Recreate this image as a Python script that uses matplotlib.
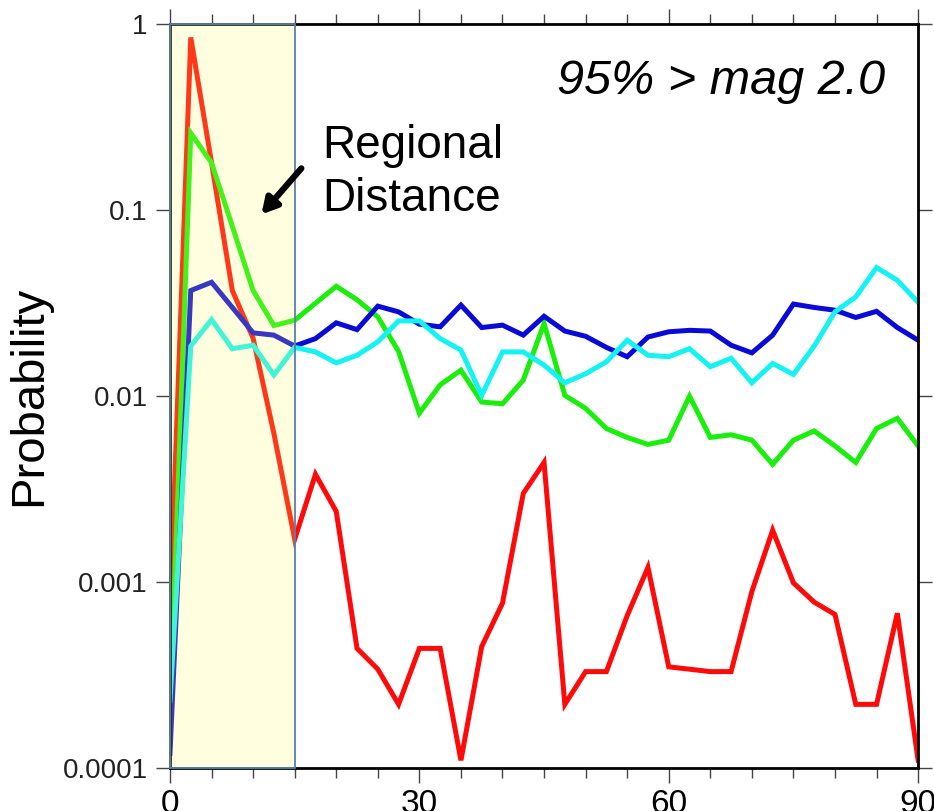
import matplotlib
matplotlib.use("Agg")
import matplotlib.pyplot as plt
from matplotlib.patches import Rectangle

plt.rcParams['font.family'] = ['Liberation Sans', 'DejaVu Sans']

# distance grid (degrees) and probabilities
distance = [0, 2.5, 5, 7.5, 10, 12.5, 15, 17.5, 20, 22.5, 25, 27.5, 30, 32.5,
            35, 37.5, 40, 42.5, 45, 47.5, 50, 52.5, 55, 57.5, 60, 62.5, 65,
            67.5, 70, 72.5, 75, 77.5, 80, 82.5, 85, 87.5, 90]

red = [0.0007, 0.85, 0.18, 0.037, 0.0205, 0.0063, 0.0017, 0.0038, 0.0024,
       0.00044, 0.00034, 0.00022, 0.00044, 0.00044, 0.00011, 0.00045, 0.00077,
       0.003, 0.0044, 0.00022, 0.00033, 0.00033, 0.00066, 0.0012, 0.00035,
       0.00034, 0.00033, 0.00033, 0.00089, 0.0019, 0.00099, 0.00078, 0.00067,
       0.00022, 0.00022, 0.00068, 0.00011]

green = [0.0002, 0.26, 0.18, 0.082, 0.037, 0.024, 0.0256, 0.0316, 0.039,
         0.033, 0.0267, 0.0174, 0.0081, 0.0115, 0.0138, 0.0093, 0.0091,
         0.0122, 0.0246, 0.0101, 0.0086, 0.0067, 0.006, 0.0055, 0.0058,
         0.0100, 0.006, 0.0062, 0.0058, 0.0043, 0.0058, 0.0065, 0.0054,
         0.0044, 0.0067, 0.0076, 0.0054]

blue = [0.00012, 0.037, 0.041, 0.030, 0.0219, 0.0213, 0.0186, 0.0204, 0.0248,
        0.0228, 0.0305, 0.0284, 0.0244, 0.0236, 0.0309, 0.0234, 0.0241,
        0.0213, 0.0269, 0.0224, 0.021, 0.0183, 0.0163, 0.0208, 0.0222,
        0.0226, 0.0224, 0.0188, 0.0171, 0.0213, 0.0313, 0.030, 0.029,
        0.0265, 0.0286, 0.0234, 0.020]

cyan = [0.00023, 0.0186, 0.0258, 0.018, 0.0188, 0.013, 0.0183, 0.0173,
        0.0151, 0.0166, 0.0196, 0.0254, 0.0254, 0.0204, 0.0177, 0.0101,
        0.0173, 0.0173, 0.0147, 0.0118, 0.0132, 0.0153, 0.020, 0.0166,
        0.0163, 0.018, 0.0144, 0.016, 0.0118, 0.015, 0.0131, 0.0186, 0.0284,
        0.0342, 0.0492, 0.042, 0.032]

y_ticks = [1e-4, 1e-3, 1e-2, 1e-1, 1]
y_labels = ['0.0001', '0.001', '0.01', '0.1', '1']
x_ticks = [0, 30, 60, 90]
regional_limit = 15

fig = plt.figure(figsize=(9.34, 8.11), dpi=100)
ax = fig.add_axes([0.182, 0.053, 0.801, 0.917])

for vals, col in [(red, '#ff0a0a'), (green, '#19ef0a'),
                  (blue, '#0a0ad8'), (cyan, '#14f2f2')]:
    ax.plot(distance, vals, color=col, lw=3.6, zorder=2,
            solid_joinstyle='miter')

# translucent yellow band drawn over the lines
ax.axvspan(0, regional_limit, facecolor=(1, 1, 0.36), alpha=0.19,
           edgecolor='none', zorder=3)
ax.add_patch(Rectangle((0, 1e-4), regional_limit, 1 - 1e-4, fill=False,
                       edgecolor='#5a7fa8', lw=1.3, zorder=4, clip_on=False))

ax.set_yscale('log')
ax.set_xlim(0, 90)
ax.set_ylim(1e-4, 1)

ax.set_yticks(y_ticks)
ax.set_yticklabels(y_labels)
ax.yaxis.set_minor_locator(matplotlib.ticker.NullLocator())
ax.set_xticks(x_ticks)
ax.set_xticks(range(0, 91, 5), minor=True)

ax.tick_params(axis='both', which='both', direction='out', color='#444444',
               width=1.0, top=True, right=True)
ax.tick_params(axis='x', which='major', length=11, labelsize=24, pad=4)
ax.tick_params(axis='x', which='minor', length=7)
ax.tick_params(axis='y', which='major', length=10, labelsize=20, pad=6,
               labelcolor='#222222')

for s in ax.spines.values():
    s.set_linewidth(2.0)
    s.set_color('black')

ax.set_ylabel('Probability', fontsize=34, labelpad=8)

ax.text(0.956, 0.953, '95% > mag 2.0', transform=ax.transAxes, fontsize=35,
        style='italic', ha='right', va='top')
ax.text(18.3, 0.16, 'Regional\nDistance', fontsize=33, ha='left',
        va='center', linespacing=1.28)

ax.annotate('', xy=(11.0, 0.095), xytext=(15.8, 0.168),
            arrowprops=dict(arrowstyle='-|>,head_length=0.9,head_width=0.5',
                            color='black', lw=4.5, shrinkA=0, shrinkB=0),
            zorder=5)

fig.savefig('out.png', dpi=100)
